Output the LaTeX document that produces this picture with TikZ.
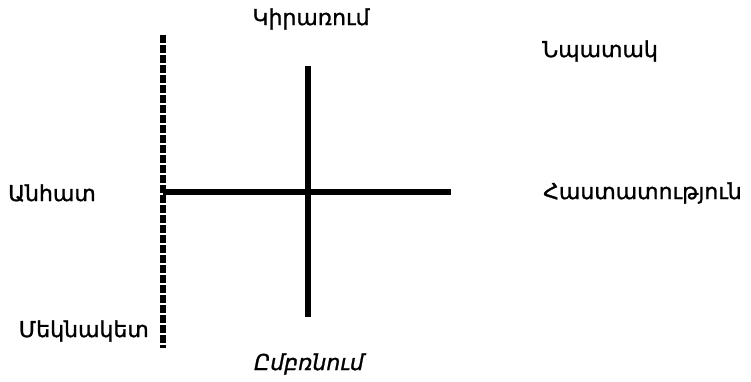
\documentclass[tikz,border=0pt]{standalone}
\usepackage{fontspec}
\setmainfont{DejaVu Sans}[FakeBold=1.1]
\begin{document}
\begin{tikzpicture}[x=1pt,y=-1pt,
  lbl/.style={inner sep=0pt,font=\fontsize{22}{26}\selectfont},
  axis/.style={line width=5.5pt},
  dashaxis/.style={line width=6.5pt,dash pattern=on 7.5pt off 2.5pt}]
\useasboundingbox (0,0) rectangle (751,381);
\coordinate (dtop) at (163,35);
\coordinate (dbot) at (163,348);
\coordinate (hl) at (163,192);
\coordinate (hr) at (451,192);
\coordinate (vt) at (308,66);
\coordinate (vb) at (308,317);
\draw[dashaxis] (dtop) -- (dbot);
\draw[axis] (hl) -- (hr);
\draw[axis] (vt) -- (vb);
\node[lbl] (kir) at (311,19) {Կիրառում};
\node[lbl,anchor=west] (npa) at (542,51) {Նպատակ};
\node[lbl,anchor=west] (anh) at (8,193) {Անհատ};
\node[lbl,anchor=west] (has) at (543,193) {Հաստատություն};
\node[lbl,anchor=east] (mek) at (149,331) {Մեկնակետ};
\node[lbl,font=\fontsize{22}{26}\selectfont\itshape] (ymb) at (309,364) {Ըմբռնում};
\end{tikzpicture}
\end{document}
